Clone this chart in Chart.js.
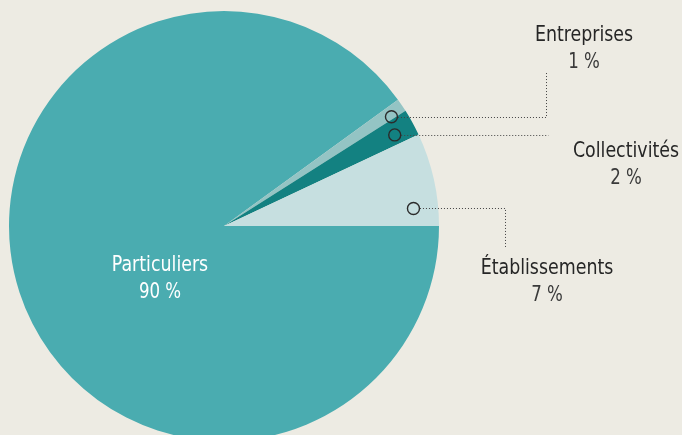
<!DOCTYPE html>
<html>
<head>
<meta charset="utf-8">
<script src="https://cdn.jsdelivr.net/npm/chart.js@4.4.1/dist/chart.umd.min.js"></script>
<style>
  html, body { margin: 0; padding: 0; background: #edebe3; }
  #wrap { width: 682px; height: 435px; overflow: hidden; position: relative; }
  canvas { display: block; }
</style>
</head>
<body>
<div id="wrap"><canvas id="pie" width="682" height="460"></canvas></div>
<script>
// data
const categories = ['Particuliers', 'Entreprises', 'Collectivités', 'Établissements'];
const shares = [90, 1, 2, 7];
const sliceColors = ['#4aacb0', '#94c4c4', '#138181', '#c6dfe0'];

// where each outside label sits and how its leader line runs
const callouts = [
  null,
  { at: 0.8, r: 0.93, lx: 584, ly: 35, elbowX: 546, elbowY: 72 },
  { at: 0.6, r: 0.90, lx: 626, ly: 151, elbowX: 548, elbowY: null },
  { at: 0.79, r: 0.885, lx: 547, ly: 268, elbowX: 505, elbowY: 248 }
];

const FONT = '"DejaVu Sans Condensed", Lato, sans-serif';
const SQUEEZE = 0.88;

// condensed text: draw a bit taller, then squeeze horizontally
function narrowText(ctx, txt, x, y, font, color) {
  ctx.save();
  ctx.font = font;
  ctx.fillStyle = color;
  ctx.translate(x, y);
  ctx.scale(SQUEEZE, 1);
  ctx.fillText(txt, 0, 0);
  ctx.restore();
}

const labelPlugin = {
  id: 'labels',
  afterDatasetsDraw(chart) {
    const ctx = chart.ctx;
    const arcs = chart.getDatasetMeta(0).data;
    ctx.save();
    ctx.textAlign = 'center';
    ctx.textBaseline = 'middle';

    // inside label for the big slice
    narrowText(ctx, categories[0], 160, 265, '22px ' + FONT, '#ffffff');
    narrowText(ctx, shares[0] + ' %', 160, 293, '21px ' + FONT, '#ffffff');

    callouts.forEach((c, i) => {
      if (!c) return;
      const a = arcs[i];
      const ang = a.startAngle + (a.endAngle - a.startAngle) * c.at;
      const px = a.x + Math.cos(ang) * a.outerRadius * c.r;
      const py = a.y + Math.sin(ang) * a.outerRadius * c.r;

      // leader line
      ctx.strokeStyle = '#444';
      ctx.lineWidth = 1;
      ctx.setLineDash([1, 2]);
      ctx.beginPath();
      ctx.moveTo(px + 6.5, Math.round(py) + 0.5);
      ctx.lineTo(c.elbowX + 0.5, Math.round(py) + 0.5);
      if (c.elbowY !== null) ctx.lineTo(c.elbowX + 0.5, c.elbowY);
      ctx.stroke();
      ctx.setLineDash([]);

      // marker circle
      ctx.strokeStyle = '#2b2b2b';
      ctx.lineWidth = 1.4;
      ctx.beginPath();
      ctx.arc(px, py, 6, 0, Math.PI * 2);
      ctx.stroke();

      // text
      narrowText(ctx, categories[i], c.lx, c.ly, '22px ' + FONT, '#262626');
      narrowText(ctx, shares[i] + ' %', c.lx, c.ly + 28, '21px ' + FONT, '#3a3a3a');
    });
    ctx.restore();
  }
};

new Chart(document.getElementById('pie'), {
  type: 'pie',
  data: {
    labels: categories,
    datasets: [{
      data: shares,
      backgroundColor: sliceColors,
      borderWidth: 0
    }]
  },
  options: {
    responsive: false,
    animation: false,
    rotation: 90,
    layout: { padding: { left: 9, right: 243, top: 11, bottom: 19 } },
    plugins: {
      legend: { display: false },
      tooltip: { enabled: false }
    }
  },
  plugins: [labelPlugin]
});
</script>
</body>
</html>
